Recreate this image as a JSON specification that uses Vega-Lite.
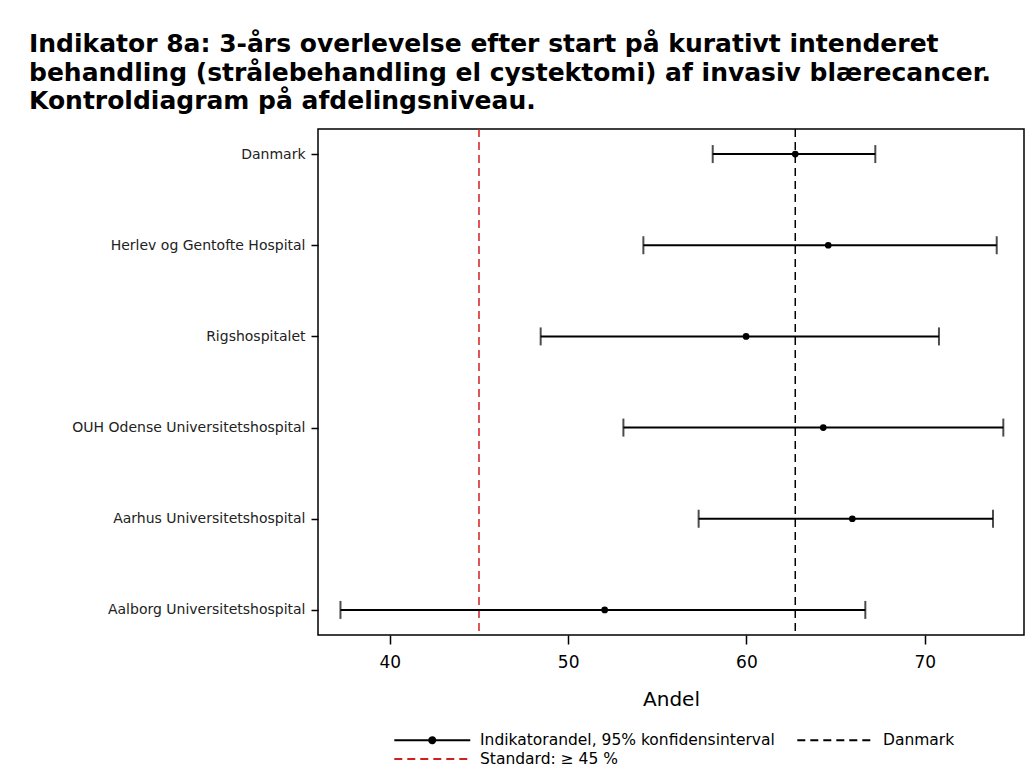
{
  "$schema": "https://vega.github.io/schema/vega-lite/v6.json",
  "width": 706,
  "height": 506,
  "autosize": {"type": "none"},
  "padding": {"left": 318, "top": 129, "right": 5, "bottom": 141},
  "background": "white",
  "config": {
    "font": "DejaVu Sans",
    "view": {"stroke": "black", "strokeWidth": 1.5},
    "legend": {
      "orient": "none",
      "legendX": 76,
      "legendY": 603,
      "padding": 0,
      "columns": 2,
      "columnPadding": 18,
      "rowPadding": 2,
      "symbolSize": 196,
      "symbolType": "M-1.1,0H9.75",
      "symbolStrokeWidth": 2,
      "labelOffset": 70,
      "labelFontSize": 15.5,
      "labelColor": "black",
      "labelLimit": 600
    }
  },
  "title": {
    "text": [
      "Indikator 8a: 3-års overlevelse efter start på kurativt intenderet",
      "behandling (strålebehandling el cystektomi) af invasiv blærecancer.",
      "Kontroldiagram på afdelingsniveau."
    ],
    "font": "DejaVu Sans",
    "fontSize": 25,
    "fontWeight": "bold",
    "color": "black",
    "anchor": "start",
    "frame": "group",
    "dx": -289,
    "lineHeight": 28.5,
    "offset": 14
  },
  "data": {
    "values": [
      {"enhed": "Danmark", "andel": 62.74, "lav": 58.11, "hoej": 67.23, "serie": "Indikatorandel, 95% konfidensinterval"},
      {"enhed": "Herlev og Gentofte Hospital", "andel": 64.59, "lav": 54.22, "hoej": 74.04, "serie": "Indikatorandel, 95% konfidensinterval"},
      {"enhed": "Rigshospitalet", "andel": 59.98, "lav": 48.46, "hoej": 70.8, "serie": "Indikatorandel, 95% konfidensinterval"},
      {"enhed": "OUH Odense Universitetshospital", "andel": 64.31, "lav": 53.1, "hoej": 74.41, "serie": "Indikatorandel, 95% konfidensinterval"},
      {"enhed": "Aarhus Universitetshospital", "andel": 65.94, "lav": 57.32, "hoej": 73.83, "serie": "Indikatorandel, 95% konfidensinterval"},
      {"enhed": "Aalborg Universitetshospital", "andel": 52.05, "lav": 37.23, "hoej": 66.67, "serie": "Indikatorandel, 95% konfidensinterval"}
    ]
  },
  "encoding": {
    "y": {
      "field": "enhed",
      "type": "nominal",
      "sort": null,
      "title": null,
      "scale": {"type": "point", "padding": 0.275},
      "axis": {
        "domain": false,
        "labelFontSize": 14,
        "labelColor": "#222",
        "tickSize": 7,
        "tickWidth": 1.5,
        "tickColor": "black",
        "labelPadding": 6,
        "labelLimit": 400
      }
    }
  },
  "layer": [
    {
      "data": {"values": [{"andel": 62.74, "serie": "Danmark"}]},
      "mark": {"type": "rule", "strokeDash": [8, 5], "strokeWidth": 1.5},
      "encoding": {
        "y": null,
        "x": {"field": "andel", "type": "quantitative"},
        "color": {
          "field": "serie",
          "type": "nominal",
          "scale": {
            "domain": ["Indikatorandel, 95% konfidensinterval", "Standard: ≥ 45 %", "Danmark"],
            "range": ["black", "#d11f1f", "black"]
          },
          "legend": {
            "title": null,
            "encode": {
              "symbols": {
                "update": {
                  "shape": {"signal": "datum.value === 'Indikatorandel, 95% konfidensinterval' ? 'M-1.1,0H9.75M4.75,0A0.43,0.43,0,1,1,3.89,0A0.43,0.43,0,1,1,4.75,0Z' : 'M-1.1,0H9.75'"},
                  "strokeDash": {"signal": "datum.value === 'Indikatorandel, 95% konfidensinterval' ? [1, 0] : [8, 5]"},
                  "fill": {"value": "black"},
                  "fillOpacity": {"signal": "datum.value === 'Indikatorandel, 95% konfidensinterval' ? 1 : 0"}
                }
              }
            }
          }
        }
      }
    },
    {
      "data": {"values": [{"andel": 45, "serie": "Standard: ≥ 45 %"}]},
      "mark": {"type": "rule", "strokeDash": [8, 5], "strokeWidth": 1.5},
      "encoding": {
        "y": null,
        "x": {"field": "andel", "type": "quantitative"},
        "color": {
          "field": "serie",
          "type": "nominal",
          "scale": {
            "domain": ["Indikatorandel, 95% konfidensinterval", "Standard: ≥ 45 %", "Danmark"],
            "range": ["black", "#d11f1f", "black"]
          },
          "legend": {
            "title": null,
            "encode": {
              "symbols": {
                "update": {
                  "shape": {"signal": "datum.value === 'Indikatorandel, 95% konfidensinterval' ? 'M-1.1,0H9.75M4.75,0A0.43,0.43,0,1,1,3.89,0A0.43,0.43,0,1,1,4.75,0Z' : 'M-1.1,0H9.75'"},
                  "strokeDash": {"signal": "datum.value === 'Indikatorandel, 95% konfidensinterval' ? [1, 0] : [8, 5]"},
                  "fill": {"value": "black"},
                  "fillOpacity": {"signal": "datum.value === 'Indikatorandel, 95% konfidensinterval' ? 1 : 0"}
                }
              }
            }
          }
        }
      }
    },
    {
      "mark": {"type": "rule", "strokeWidth": 2},
      "encoding": {
        "x": {
          "field": "lav",
          "type": "quantitative",
          "scale": {"domain": [35.97, 75.57], "nice": false, "zero": false},
          "axis": {
            "values": [40, 50, 60, 70],
            "grid": false,
            "domain": false,
            "tickSize": 9,
            "tickWidth": 1.5,
            "tickColor": "black",
            "labelFontSize": 17,
            "labelColor": "black",
            "labelPadding": 10,
            "title": "Andel",
            "titleFontSize": 20,
            "titleFontWeight": "normal",
            "titleColor": "black",
            "titlePadding": 19
          }
        },
        "x2": {"field": "hoej"},
        "color": {
          "field": "serie",
          "type": "nominal",
          "scale": {
            "domain": ["Indikatorandel, 95% konfidensinterval", "Standard: ≥ 45 %", "Danmark"],
            "range": ["black", "#d11f1f", "black"]
          },
          "legend": {
            "title": null,
            "encode": {
              "symbols": {
                "update": {
                  "shape": {"signal": "datum.value === 'Indikatorandel, 95% konfidensinterval' ? 'M-1.1,0H9.75M4.75,0A0.43,0.43,0,1,1,3.89,0A0.43,0.43,0,1,1,4.75,0Z' : 'M-1.1,0H9.75'"},
                  "strokeDash": {"signal": "datum.value === 'Indikatorandel, 95% konfidensinterval' ? [1, 0] : [8, 5]"},
                  "fill": {"value": "black"},
                  "fillOpacity": {"signal": "datum.value === 'Indikatorandel, 95% konfidensinterval' ? 1 : 0"}
                }
              }
            }
          }
        }
      }
    },
    {
      "mark": {"type": "tick", "color": "black", "size": 18, "thickness": 2},
      "encoding": {"x": {"field": "lav", "type": "quantitative"}}
    },
    {
      "mark": {"type": "tick", "color": "black", "size": 18, "thickness": 2},
      "encoding": {"x": {"field": "hoej", "type": "quantitative"}}
    },
    {
      "mark": {"type": "point", "filled": true, "color": "black", "size": 45, "opacity": 1},
      "encoding": {"x": {"field": "andel", "type": "quantitative"}}
    }
  ]
}
